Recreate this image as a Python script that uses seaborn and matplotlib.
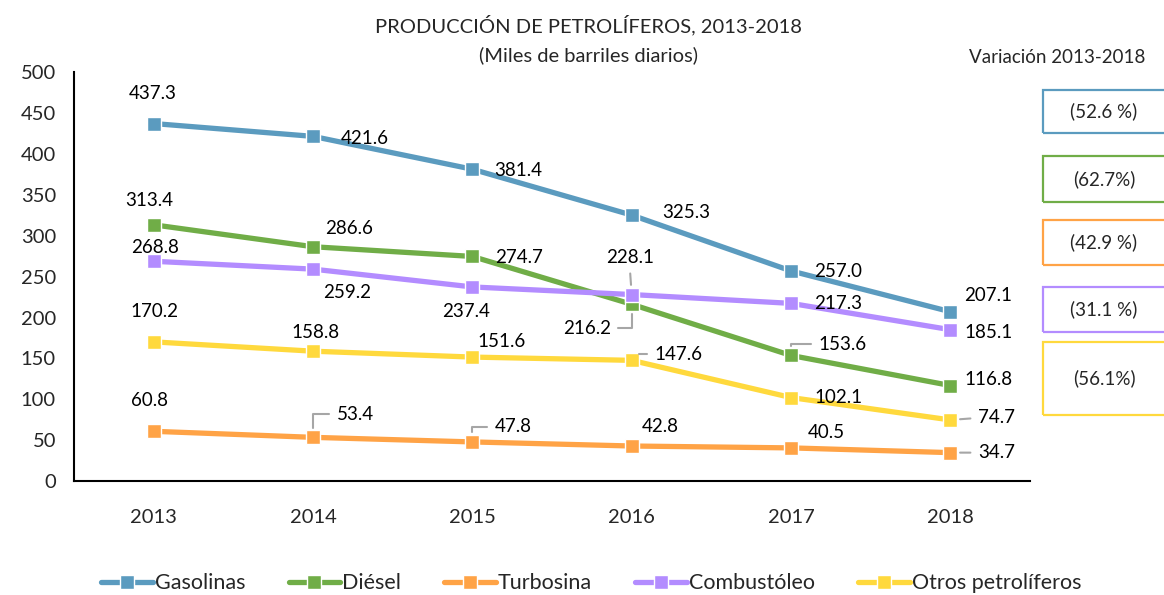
import pandas as pd
import seaborn as sns
import matplotlib.pyplot as plt
from matplotlib.patches import Rectangle

anios = ['2013', '2014', '2015', '2016', '2017', '2018']
gasolinas = [437.3, 421.6, 381.4, 325.3, 257.0, 207.1]
diesel = [313.4, 286.6, 274.7, 216.2, 153.6, 116.8]
turbosina = [60.8, 53.4, 47.8, 42.8, 40.5, 34.7]
combustoleo = [268.8, 259.2, 237.4, 228.1, 217.3, 185.1]
otros = [170.2, 158.8, 151.6, 147.6, 102.1, 74.7]
series = ['Gasolinas', 'Diésel', 'Turbosina', 'Combustóleo', 'Otros petrolíferos']
variacion = ['(52.6 %)', '(62.7%)', '(42.9 %)', '(31.1 %)', '(56.1%)']

colores = ['#5B9BBF', '#70AD47', '#FFA346', '#B38CFF', '#FFD93D']

valores = {'Gasolinas': gasolinas, 'Diésel': diesel, 'Turbosina': turbosina,
           'Combustóleo': combustoleo, 'Otros petrolíferos': otros}
filas = []
for s in series:
    for i, v in enumerate(valores[s]):
        filas.append({'x': i, 'valor': v, 'serie': s})
df = pd.DataFrame(filas)

sns.set_style('white')
plt.rcParams['font.family'] = ['Lato', 'DejaVu Sans']

fig = plt.figure(figsize=(11.64, 5.95), dpi=100)
ax = fig.add_axes([0.0636, 0.1916, 0.8213, 0.6869])

sns.lineplot(data=df, x='x', y='valor', hue='serie', style='serie',
             palette=dict(zip(series, colores)), markers={s: 's' for s in series},
             dashes=False, linewidth=3.8, markersize=10, markeredgecolor='white',
             markeredgewidth=1, ax=ax, legend=True)

ax.set_xlim(-0.5, 5.5)
ax.set_ylim(0, 500)
ax.set_yticks(range(0, 501, 50))
ax.set_xticks(range(6))
ax.set_xticklabels(anios)
ax.set_xlabel('')
ax.set_ylabel('')
ax.tick_params(axis='y', length=6, width=1.5, color='black', labelsize=14.5, pad=7)
ax.tick_params(axis='x', length=0, labelsize=14.5, pad=20)
for sp in ['top', 'right']:
    ax.spines[sp].set_visible(False)
for sp in ['left', 'bottom']:
    ax.spines[sp].set_color('black')
    ax.spines[sp].set_linewidth(1.5)

# offsets (px) de las etiquetas
offs = {
    'Gasolinas': [(-1, 30), (52, -2), (46, -1), (55, 3), (47, -1), (38, 16)],
    'Diésel': [(-4, 24), (36, 18), (47, -1), (-45, -24), (51, 11), (38, 6)],
    'Turbosina': [(-4, 31), (42, 23), (41, 15), (29, 20), (35, 15), (46, 0)],
    'Combustóleo': [(1, 14), (34, -23), (-6, -25), (-2, 37), (47, 0), (38, -3)],
    'Otros petrolíferos': [(1, 30), (2, 19), (29, 16), (47, 6), (47, 0), (46, 2)],
}
# guias: tipo de linea guia
guias = {
    ('Diésel', 3): ('angle', (1, 0.5)),
    ('Diésel', 4): ('angle', (0, 0.5)),
    ('Turbosina', 1): ('angle', (0, 0.5)),
    ('Turbosina', 2): ('angle', (0, 0.5)),
    ('Turbosina', 5): ('recta', (0, 0.5)),
    ('Combustóleo', 3): ('recta', (0.5, 0)),
    ('Otros petrolíferos', 3): ('angle', (0, 0.5)),
    ('Otros petrolíferos', 5): ('recta', (0, 0.5)),
}
for s in series:
    for i, v in enumerate(valores[s]):
        kw = {}
        g = guias.get((s, i))
        if g:
            estilo, rel = g
            cs = 'angle,angleA=0,angleB=90,rad=0' if estilo == 'angle' else 'arc3'
            kw['arrowprops'] = dict(arrowstyle='-', color='#A6A6A6', lw=1.5,
                                    connectionstyle=cs, relpos=rel,
                                    shrinkA=3, shrinkB=7)
        ax.annotate(f'{v:.1f}', xy=(i, v), xytext=offs[s][i],
                    textcoords='offset pixels', ha='center', va='center',
                    fontsize=13.5, color='black', **kw)

leg = ax.get_legend()
handles, labels = ax.get_legend_handles_labels()
leg.remove()
fig.legend(handles, labels, loc='center', bbox_to_anchor=(0.508, 0.02), ncol=5,
           frameon=False, fontsize=15.5, handlelength=2.4, handletextpad=0.1,
           columnspacing=2.0, borderaxespad=0)

fig.text(0.506, 0.958, 'PRODUCCIÓN DE PETROLÍFEROS, 2013-2018', ha='center',
         va='center', fontsize=14.5)
fig.text(0.506, 0.907, '(Miles de barriles diarios)', ha='center',
         va='center', fontsize=14.5)
fig.text(0.984, 0.904, 'Variación 2013-2018', ha='right', va='center', fontsize=13.5)

cajas = [(90, 133), (156, 202), (220, 265), (287, 332), (342, 415)]
for (y0, y1), txt, c in zip(cajas, variacion, colores):
    fig.add_artist(Rectangle((1043 / 1164, 1 - y1 / 595), 140 / 1164, (y1 - y0) / 595,
                             transform=fig.transFigure, fill=False, edgecolor=c,
                             linewidth=1.6, clip_on=False))
    fig.text(1104 / 1164, 1 - (y0 + y1) / 2 / 595, txt, ha='center', va='center',
             fontsize=13.5)

plt.savefig('out.png', dpi=100)
plt.close()
